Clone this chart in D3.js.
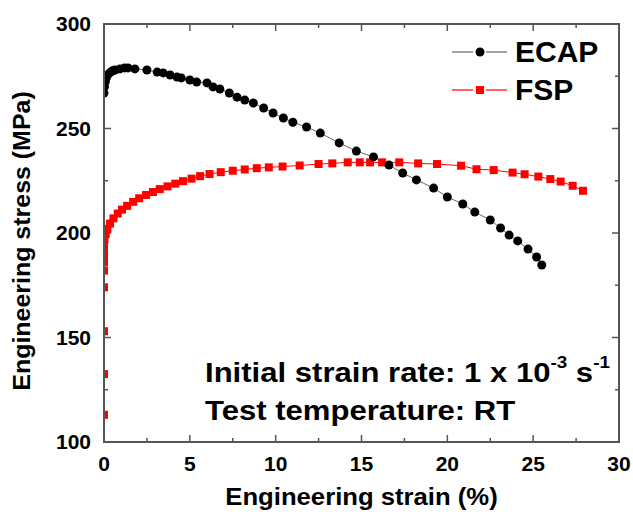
<!DOCTYPE html>
<html>
<head>
<meta charset="utf-8">
<script src="https://cdn.jsdelivr.net/npm/d3@7"></script>
<style>
  body { margin: 0; background: #fff; }
  svg { display: block; font-family: "Liberation Sans", Arial, sans-serif; font-weight: bold; }
</style>
</head>
<body>
<div id="chart"></div>
<script>
// ECAP: strain (%) and stress (MPa)
const ecapStrain = [0, 0.03, 0.08, 0.15, 0.25, 0.38, 0.5, 0.64, 0.93, 1.2, 1.4, 1.8, 2.5, 3.1, 3.45, 3.85, 4.25, 4.5, 5.0, 5.4, 6.0, 6.35, 6.75, 7.3, 7.75, 8.2, 8.7, 9.3, 9.85, 10.45, 11.0, 11.8, 12.6, 13.7, 14.7, 15.7, 16.6, 17.4, 18.2, 19.2, 20.0, 20.9, 21.6, 22.5, 23.1, 23.6, 24.1, 24.7, 25.2, 25.5]
const ecapStress = [267, 270, 272.5, 274.5, 276, 277, 277.6, 278, 278.5, 279, 279, 278.5, 278, 277, 276.6, 275.6, 274.6, 274.2, 273.2, 272.2, 271.8, 269.9, 268.9, 267, 265, 263.6, 262.2, 259.8, 257.4, 255, 253, 250.7, 247.8, 243.1, 239.2, 236.4, 232.5, 228.7, 225.4, 221.5, 217.2, 213.9, 210, 206.2, 202.4, 199, 196.2, 192.3, 188.5, 184.7]

// FSP
const fspStrain = [0, 0, 0, 0, 0, 0, 0, 0, 0, 0.03, 0.1, 0.2, 0.35, 0.55, 0.8, 1.05, 1.35, 1.7, 2.05, 2.45, 2.85, 3.25, 3.7, 4.15, 4.6, 5.1, 5.6, 6.15, 6.8, 7.5, 8.2, 8.9, 9.6, 10.4, 11.4, 12.5, 13.3, 14.2, 14.9, 15.5, 16.2, 17.2, 18.3, 19.4, 20.8, 21.7, 22.7, 23.8, 24.5, 25.3, 26.0, 26.6, 27.3, 27.9]
const fspStress = [113, 132.5, 153, 174, 182, 186, 189, 192, 194.5, 197, 199.5, 202, 204.5, 207, 209.3, 211.2, 213, 214.9, 216.6, 218.2, 219.6, 221, 222.3, 223.6, 224.8, 226, 227.2, 228.2, 229.1, 229.8, 230.4, 231, 231.4, 231.8, 232.3, 233, 233.3, 233.8, 233.8, 233.8, 233.8, 233.8, 233.3, 233, 232.2, 230.5, 230.1, 228.9, 228.1, 227, 225.8, 224.6, 222.6, 220.2]

const xTicks = [0, 5, 10, 15, 20, 25, 30]
const yTicks = [100, 150, 200, 250, 300]
const seriesNames = ['ECAP', 'FSP']

const width = 633, height = 512
const margin = {left: 104, right: 14, top: 24, bottom: 70}
const plotW = width - margin.left - margin.right
const plotH = height - margin.top - margin.bottom

const x = d3.scaleLinear().domain([0, 30]).range([0, plotW])
const y = d3.scaleLinear().domain([100, 300]).range([plotH, 0])

const svg = d3.select('#chart').append('svg')
    .attr('width', width)
    .attr('height', height)

const g = svg.append('g')
    .attr('transform', `translate(${margin.left},${margin.top})`)

svg.append('defs').append('clipPath')
    .attr('id', 'plot-clip')
  .append('rect')
    .attr('width', plotW)
    .attr('height', plotH)

const axisColor = '#555'

// minor ticks every 2.5 / 25, drawn inward on all four sides
const xMinor = d3.range(0, 30.01, 2.5)
const yMinor = d3.range(100, 300.01, 25)

function tickLen(v, step) { return Math.abs(v / step - Math.round(v / step)) < 1e-6 ? 7 : 4 }

const ticks = g.append('g').attr('stroke', axisColor).attr('stroke-width', 1.5)
xMinor.forEach(v => {
    const l = tickLen(v, 5)
    ticks.append('line').attr('x1', x(v)).attr('x2', x(v)).attr('y1', plotH).attr('y2', plotH - l)
    ticks.append('line').attr('x1', x(v)).attr('x2', x(v)).attr('y1', 0).attr('y2', l)
})
yMinor.forEach(v => {
    const l = tickLen(v, 50)
    ticks.append('line').attr('y1', y(v)).attr('y2', y(v)).attr('x1', 0).attr('x2', l)
    ticks.append('line').attr('y1', y(v)).attr('y2', y(v)).attr('x1', plotW).attr('x2', plotW - l)
})

// tick labels
g.append('g')
  .selectAll('text')
  .data(xTicks)
  .join('text')
    .attr('x', d => x(d))
    .attr('y', plotH + 29)
    .attr('text-anchor', 'middle')
    .attr('font-size', 21)
    .text(d => d)

g.append('g')
  .selectAll('text')
  .data(yTicks)
  .join('text')
    .attr('x', -13)
    .attr('y', d => y(d) + 7)
    .attr('text-anchor', 'end')
    .attr('font-size', 21)
    .text(d => d)

// data
const ecap = ecapStrain.map((s, i) => [s, ecapStress[i]])
const fsp = fspStrain.map((s, i) => [s, fspStress[i]])
const line = d3.line().x(d => x(d[0])).y(d => y(d[1]))

const plot = g.append('g').attr('clip-path', 'url(#plot-clip)')

plot.append('path')
    .datum(ecap)
    .attr('fill', 'none')
    .attr('stroke', '#666')
    .attr('stroke-width', 1)
    .attr('d', line)

plot.append('path')
    .datum(fsp)
    .attr('fill', 'none')
    .attr('stroke', '#f00')
    .attr('stroke-width', 1)
    .attr('d', line)

plot.append('g')
  .selectAll('rect')
  .data(fsp)
  .join('rect')
    .attr('x', d => x(d[0]) - 4)
    .attr('y', d => y(d[1]) - 4)
    .attr('width', 8)
    .attr('height', 8)
    .attr('fill', '#f00')

plot.append('g')
  .selectAll('circle')
  .data(ecap)
  .join('circle')
    .attr('cx', d => x(d[0]))
    .attr('cy', d => y(d[1]))
    .attr('r', 4.5)
    .attr('fill', '#000')

// frame
g.append('rect')
    .attr('width', plotW)
    .attr('height', plotH)
    .attr('fill', 'none')
    .attr('stroke', axisColor)
    .attr('stroke-width', 2)

// legend
const legend = g.append('g').attr('transform', 'translate(348,28)')
seriesNames.forEach((name, i) => {
    const row = legend.append('g').attr('transform', `translate(0,${i * 38})`)
    const col = i === 0 ? '#666' : '#f00'
    row.append('line').attr('x1', 0).attr('x2', 21).attr('stroke', col).attr('stroke-width', 1.2)
    row.append('line').attr('x1', 34).attr('x2', 55).attr('stroke', col).attr('stroke-width', 1.2)
    if (i === 0) {
        row.append('circle').attr('cx', 28).attr('r', 4.5).attr('fill', '#000')
    } else {
        row.append('rect').attr('x', 24).attr('y', -4).attr('width', 8).attr('height', 8).attr('fill', '#f00')
    }
    row.append('text')
        .attr('x', 63)
        .attr('y', 10)
        .attr('font-size', 30)
        .text(name)
})

// note (the source text is a little stretched sideways)
const note = g.append('g')
    .attr('font-size', 28)
    .attr('transform', 'translate(101,0) scale(1.11,1)')
const l1 = note.append('text').attr('y', 358)
l1.append('tspan').text('Initial strain rate: 1 x 10')
l1.append('tspan').attr('font-size', 17).attr('dy', -14).text('-3')
l1.append('tspan').attr('dy', 14).text(' s')
l1.append('tspan').attr('font-size', 17).attr('dy', -14).text('-1')
note.append('text').attr('y', 396).text('Test temperature: RT')

// axis titles
svg.append('text')
    .attr('transform', `translate(${margin.left + plotW / 2},505) scale(1.07,1)`)
    .attr('text-anchor', 'middle')
    .attr('font-size', 24)
    .text('Engineering strain (%)')

svg.append('text')
    .attr('transform', 'translate(30,241) rotate(-90) scale(1.04,1)')
    .attr('text-anchor', 'middle')
    .attr('font-size', 24)
    .text('Engineering stress (MPa)')
</script>
</body>
</html>
